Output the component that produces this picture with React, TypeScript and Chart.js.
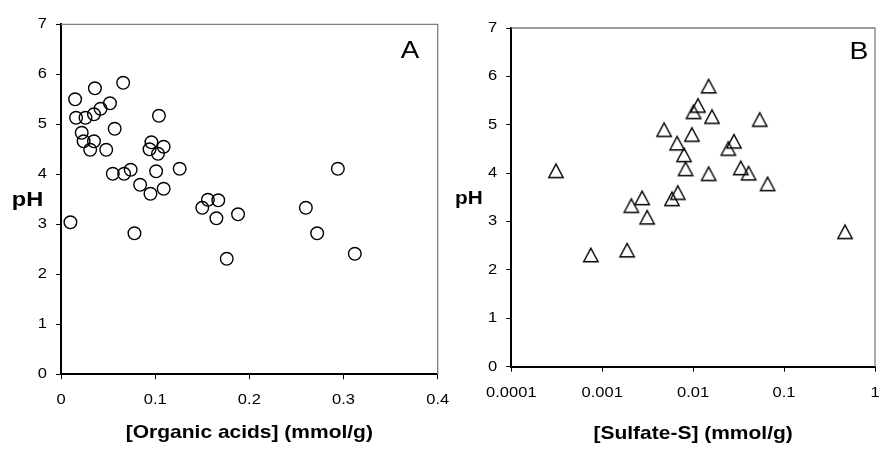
import React, { useEffect, useRef } from "react";
import { Chart, registerables } from "chart.js";

Chart.register(...registerables);

// ---------- data ----------
const Y_TICKS = [0, 1, 2, 3, 4, 5, 6, 7];
const Y_TICK_LABELS = ["0", "1", "2", "3", "4", "5", "6", "7"];

const X_TICKS_A = [0, 0.1, 0.2, 0.3, 0.4];
const X_TICK_LABELS_A = ["0", "0.1", "0.2", "0.3", "0.4"];

const X_TICKS_B = [0.0001, 0.001, 0.01, 0.1, 1];
const X_TICK_LABELS_B = ["0.0001", "0.001", "0.01", "0.1", "1"];

const ORGANIC_ACIDS = [
  0.010, 0.015, 0.016, 0.026, 0.022, 0.024, 0.031, 0.035, 0.036, 0.035,
  0.042, 0.052, 0.057, 0.048, 0.066, 0.055, 0.067, 0.074, 0.084, 0.078,
  0.095, 0.096, 0.094, 0.103, 0.109, 0.104, 0.101, 0.109, 0.126, 0.150,
  0.156, 0.167, 0.165, 0.176, 0.188, 0.260, 0.272, 0.294, 0.312,
];
const PH_A = [
  3.04, 5.50, 5.13, 5.13, 4.83, 4.66, 4.49, 4.66, 5.72, 5.20,
  5.31, 5.42, 4.91, 4.49, 5.83, 4.01, 4.01, 4.09, 3.79, 2.82,
  3.61, 4.64, 4.50, 4.41, 4.55, 5.17, 4.06, 3.71, 4.11, 3.33,
  3.49, 3.48, 3.12, 2.31, 3.20, 3.33, 2.82, 4.11, 2.41,
];

const SULFATE_S = [
  0.00031, 0.00075, 0.00188, 0.00209, 0.00275, 0.00312, 0.00479, 0.00585,
  0.00678, 0.00667, 0.00794, 0.00826, 0.00969, 0.0101, 0.0113, 0.0148,
  0.0161, 0.0148, 0.0244, 0.0281, 0.0334, 0.0407, 0.054, 0.0659, 0.468,
];
const PH_B = [
  4.05, 2.31, 2.41, 3.33, 3.49, 3.09, 4.90, 3.47,
  3.60, 4.62, 4.38, 4.09, 4.80, 5.27, 5.40, 5.80,
  5.17, 3.99, 4.51, 4.66, 4.11, 4.00, 5.11, 3.78, 2.79,
];

const TITLE_A = "[Organic acids] (mmol/g)";
const TITLE_B = "[Sulfate-S] (mmol/g)";
const Y_TITLE = "pH";
const PANEL_A = "A";
const PANEL_B = "B";

// ---------- style ----------
const SX = 1.18; // horizontal text stretch seen in the reference
const FONT = '"Liberation Sans", Arial, sans-serif';
const TICK_FONT = `14px ${FONT}`;
const TITLE_FONT = `bold 17.8px ${FONT}`;

function drawText(
  ctx: CanvasRenderingContext2D,
  text: string,
  x: number,
  y: number,
  font: string,
  align: "left" | "center" | "right"
) {
  ctx.save();
  ctx.font = font;
  ctx.fillStyle = "#000";
  ctx.textBaseline = "middle";
  ctx.textAlign = "left";
  const w = ctx.measureText(text).width * SX;
  const left = align === "center" ? x - w / 2 : align === "right" ? x - w : x;
  ctx.translate(left, y);
  ctx.scale(SX, 1);
  ctx.fillText(text, 0, 0);
  ctx.restore();
}

type TextCfg = {
  xLabels: string[];
  xLabelDy: number;
  title: string;
  titleY: number;
  pH: { x: number; y: number; size: number };
  letter: { text: string; x: number; y: number; size: number };
};

function textPlugin(cfg: TextCfg) {
  return {
    id: "txt",
    afterDraw(chart: any) {
      const ctx: CanvasRenderingContext2D = chart.ctx;
      const a = chart.chartArea;
      ctx.save();
      ctx.strokeStyle = "#7f7f7f";
      ctx.lineWidth = 1.3;
      ctx.beginPath();
      ctx.moveTo(a.left, a.top);
      ctx.lineTo(a.right, a.top);
      ctx.lineTo(a.right, a.bottom);
      ctx.stroke();
      ctx.restore();

      const ys = chart.scales.y;
      ys.ticks.forEach((t: any, i: number) => {
        drawText(ctx, Y_TICK_LABELS[i], a.left - 14, ys.getPixelForValue(t.value), TICK_FONT, "right");
      });
      const xs = chart.scales.x;
      xs.ticks.forEach((t: any, i: number) => {
        drawText(ctx, cfg.xLabels[i], xs.getPixelForValue(t.value), a.bottom + cfg.xLabelDy, TICK_FONT, "center");
      });
      drawText(ctx, cfg.title, (a.left + a.right) / 2, cfg.titleY, TITLE_FONT, "center");
      drawText(ctx, Y_TITLE, cfg.pH.x, cfg.pH.y, `bold ${cfg.pH.size}px ${FONT}`, "center");
      drawText(ctx, cfg.letter.text, cfg.letter.x, cfg.letter.y, `${cfg.letter.size}px ${FONT}`, "center");
    },
  };
}

function makeTriangle(): HTMLCanvasElement {
  const c = document.createElement("canvas");
  c.width = 18;
  c.height = 18;
  const g = c.getContext("2d")!;
  g.strokeStyle = "#000";
  g.lineWidth = 1.4;
  g.beginPath();
  g.moveTo(9, 2.3);
  g.lineTo(16.2, 15.7);
  g.lineTo(1.8, 15.7);
  g.closePath();
  g.stroke();
  return c;
}

function axisOpts(extra: any) {
  return {
    ticks: { display: false },
    grid: { drawOnChartArea: false, drawTicks: true, tickLength: 5, color: "#000", lineWidth: 1 },
    border: { color: "#000", width: 2 },
    ...extra,
  };
}

export default function App() {
  const refA = useRef<HTMLCanvasElement>(null);
  const refB = useRef<HTMLCanvasElement>(null);

  useEffect(() => {
    const chartA = new Chart(refA.current!, {
      type: "scatter",
      data: {
        datasets: [
          {
            data: ORGANIC_ACIDS.map((x, i) => ({ x, y: PH_A[i] })),
            pointStyle: "circle",
            pointRadius: 6.3,
            pointBorderWidth: 1.4,
            pointBorderColor: "#000",
            pointBackgroundColor: "rgba(0,0,0,0)",
          },
        ],
      },
      options: {
        responsive: false,
        animation: false,
        devicePixelRatio: 1,
        events: [],
        layout: { padding: { left: 0, top: 24.3, right: 22.3, bottom: 0 } },
        plugins: { legend: { display: false }, tooltip: { enabled: false } },
        scales: {
          x: axisOpts({
            type: "linear",
            min: 0,
            max: 0.4,
            afterBuildTicks: (s: any) => {
              s.ticks = X_TICKS_A.map((v) => ({ value: v }));
            },
            afterFit: (s: any) => {
              s.height = 74.7;
              s.paddingLeft = 0;
              s.paddingRight = 0;
            },
          }),
          y: axisOpts({
            type: "linear",
            min: 0,
            max: 7,
            afterBuildTicks: (s: any) => {
              s.ticks = Y_TICKS.map((v) => ({ value: v }));
            },
            afterFit: (s: any) => {
              s.width = 61;
              s.paddingTop = 0;
              s.paddingBottom = 0;
            },
          }),
        },
      } as any,
      plugins: [
        textPlugin({
          xLabels: X_TICK_LABELS_A,
          xLabelDy: 26,
          title: TITLE_A,
          titleY: 433,
          pH: { x: 27.5, y: 200, size: 20 },
          letter: { text: PANEL_A, x: 410, y: 52, size: 23.5 },
        }),
      ],
    });

    const tri = makeTriangle();
    const chartB = new Chart(refB.current!, {
      type: "scatter",
      data: {
        datasets: [
          {
            data: SULFATE_S.map((x, i) => ({ x, y: PH_B[i] })),
            pointStyle: tri as any,
            pointRadius: 7,
            pointBorderColor: "#000",
            pointBackgroundColor: "rgba(0,0,0,0)",
          },
        ],
      },
      options: {
        responsive: false,
        animation: false,
        devicePixelRatio: 1,
        events: [],
        layout: { padding: { left: 0, top: 28, right: 0.3, bottom: 0 } },
        plugins: { legend: { display: false }, tooltip: { enabled: false } },
        scales: {
          x: axisOpts({
            type: "logarithmic",
            min: 0.0001,
            max: 1,
            afterBuildTicks: (s: any) => {
              s.ticks = X_TICKS_B.map((v) => ({ value: v }));
            },
            afterFit: (s: any) => {
              s.height = 82.3;
              s.paddingLeft = 0;
              s.paddingRight = 0;
            },
          }),
          y: axisOpts({
            type: "linear",
            min: 0,
            max: 7,
            afterBuildTicks: (s: any) => {
              s.ticks = Y_TICKS.map((v) => ({ value: v }));
            },
            afterFit: (s: any) => {
              s.width = 71.3;
              s.paddingTop = 0;
              s.paddingBottom = 0;
            },
          }),
        },
      } as any,
      plugins: [
        textPlugin({
          xLabels: X_TICK_LABELS_B,
          xLabelDy: 26.5,
          title: TITLE_B,
          titleY: 434,
          pH: { x: 28.8, y: 199, size: 17.6 },
          letter: { text: PANEL_B, x: 419, y: 52, size: 24 },
        }),
      ],
    });

    return () => {
      chartA.destroy();
      chartB.destroy();
    };
  }, []);

  return (
    <div style={{ position: "fixed", left: 0, top: 0, width: 883, height: 449, background: "#fff", overflow: "hidden" }}>
      <canvas ref={refA} width={460} height={449} style={{ position: "absolute", left: 0, top: 0, width: 460, height: 449 }} />
      <canvas ref={refB} width={443} height={449} style={{ position: "absolute", left: 440, top: 0, width: 443, height: 449 }} />
    </div>
  );
}
